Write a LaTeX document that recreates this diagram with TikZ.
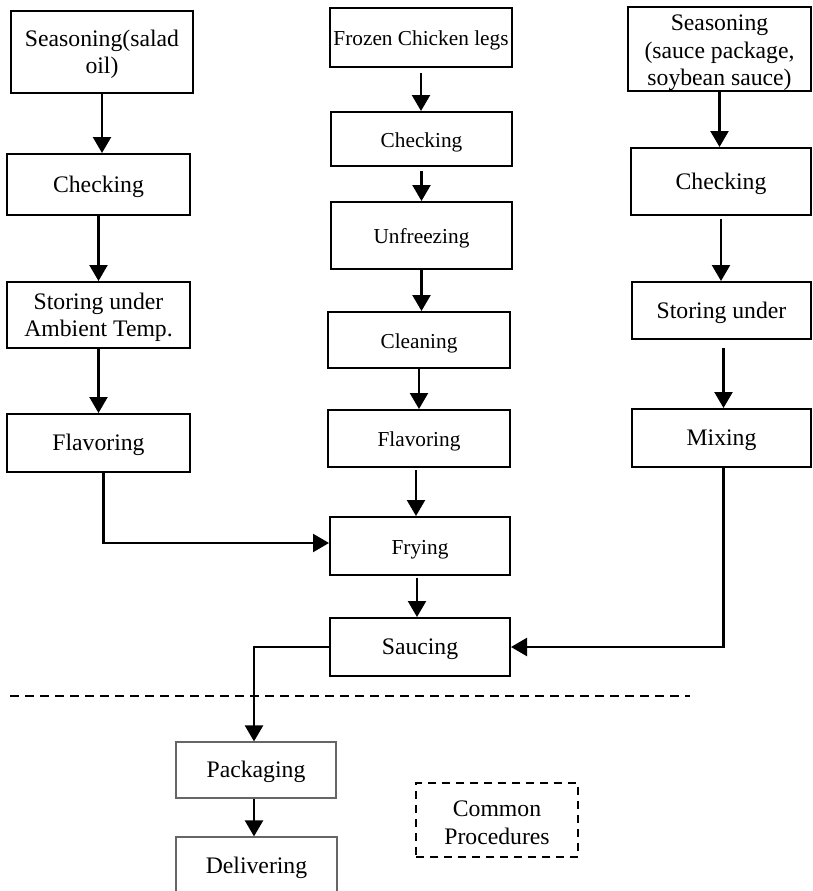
\documentclass[tikz,border=0pt]{standalone}
\usepackage{fontspec}
\setmainfont{Liberation Serif}
\usetikzlibrary{arrows.meta}
\begin{document}
\begin{tikzpicture}[x=1pt,y=-1pt,
  procbox/.style={draw=black, line width=2pt, inner sep=0pt, align=center, font=\fontsize{23.7}{27.5}\selectfont, execute at begin node={\rule{0pt}{21pt}}},
  midbox/.style={procbox, font=\fontsize{21.3}{26}\selectfont, execute at begin node={\rule{0pt}{19pt}}},
  grbox/.style={procbox, draw=black!60, line width=1.2pt},
  dbox/.style={procbox, line width=1.6pt, dash pattern=on 8pt off 6pt},
  arr/.style={line width=2.3pt, -{Triangle[length=16pt,width=18pt]}},
  sepline/.style={line width=1.6pt, dash pattern=on 9pt off 6pt},
]
\useasboundingbox (0,0) rectangle (812,891);

% left column
\node[procbox, minimum width=182pt, minimum height=82pt] (l1) at (102,52) {\rule{0pt}{21pt}Seasoning(salad\\oil)};
\node[procbox, minimum width=183pt, minimum height=61pt] (l2) at (98.5,184.5) {Checking};
\node[procbox, minimum width=183pt, minimum height=66pt] (l3) at (98.5,315) {\rule{0pt}{21pt}Storing under\\Ambient Temp.};
\node[procbox, minimum width=183pt, minimum height=58pt] (l4) at (98.5,443) {Flavoring};

% middle column
\node[midbox, minimum width=182pt, minimum height=59pt] (m1) at (421,37.5) {Frozen Chicken legs};
\node[midbox, minimum width=181pt, minimum height=54pt] (m2) at (421.5,139) {Checking};
\node[midbox, minimum width=181pt, minimum height=67pt] (m3) at (421.5,235.5) {Unfreezing};
\node[midbox, minimum width=182pt, minimum height=56pt] (m4) at (419,340) {Cleaning};
\node[midbox, minimum width=182pt, minimum height=57pt] (m5) at (419,438.5) {Flavoring};
\node[midbox, minimum width=180pt, minimum height=58pt] (m6) at (420,546) {Frying};
\node[procbox, minimum width=180pt, minimum height=58pt] (m7) at (420,647) {Saucing};

% right column
\node[procbox, minimum width=183pt, minimum height=82pt] (r1) at (719.5,49) {\rule{0pt}{24pt}Seasoning\\(sauce package,\\soybean sauce)};
\node[procbox, minimum width=180pt, minimum height=67pt] (r2) at (721,181.5) {Checking};
\node[procbox, minimum width=179pt, minimum height=57pt] (r3) at (721.5,310.5) {Storing under};
\node[procbox, minimum width=179pt, minimum height=58pt] (r4) at (721.5,438) {Mixing};

% common procedures
\node[grbox, minimum width=160pt, minimum height=56pt] (p1) at (256,770) {Packaging};
\node[grbox, minimum width=161pt, minimum height=58pt] (p2) at (256.5,866) {Delivering};
\node[dbox, minimum width=162pt, minimum height=74pt] (cp) at (497,820) {\rule{0pt}{21pt}Common\\Procedures};

% separator
\coordinate (sepA) at (10,696);
\coordinate (sepB) at (690,696);
\draw[sepline] (sepA) -- (sepB);

% arrows left
\draw[arr] (l1.south) -- (l1.south |- l2.north);
\draw[arr] (l2.south) -- (l2.south |- l3.north);
\draw[arr] (l3.south) -- (l3.south |- l4.north);
\draw[arr] ([xshift=5pt]l4.south) |- ([yshift=3pt]m6.west);

% arrows middle
\draw[arr] ([yshift=-5pt]m1.south) -- (m1.south |- m2.north);
\draw[arr] ([yshift=-4pt]m2.south) -- (m2.south |- m3.north);
\draw[arr] (m3.south) -- (m3.south |- m4.north);
\draw[arr] (m4.south) -- (m4.south |- m5.north);
\draw[arr] ([xshift=-3pt,yshift=-2pt]m5.south) -- ([xshift=-3pt]m5.south |- m6.north);
\draw[arr] ([xshift=-3pt,yshift=-2pt]m6.south) -- ([xshift=-3pt]m6.south |- m7.north);

% arrows right
\draw[arr] (r1.south) -- (r1.south |- r2.north);
\draw[arr] ([yshift=-3pt]r2.south) -- (r2.south |- r3.north);
\draw[arr] ([xshift=2pt,yshift=-8pt]r3.south) -- ([xshift=2pt]r3.south |- r4.north);
\draw[arr] ([xshift=2pt]r4.south) |- (m7.east);

% to common
\draw[arr] (m7.west) -| ([xshift=-2pt]p1.north);
\draw[arr] ([xshift=-2pt]p1.south) -- ([xshift=-2pt]p1.south |- p2.north);
\end{tikzpicture}
\end{document}
